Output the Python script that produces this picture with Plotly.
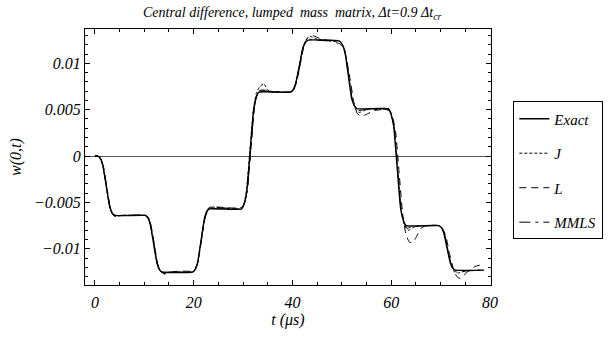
import plotly.graph_objects as go

# ---------------- data ----------------
t_exact = [0, 0.6, 1.1, 1.6, 2.3, 3.0, 3.5, 4.0, 10.2, 10.7, 11.2, 11.9, 12.6, 13.1, 13.6,
           19.8, 20.3, 20.8, 21.5, 22.2, 22.7, 23.2, 29.7, 30.2, 30.75, 31.45, 32.15, 32.7, 33.2,
           39.6, 40.1, 40.6, 41.4, 42.1, 42.7, 43.2, 49.5, 50.0, 50.6, 51.3, 52.0, 52.6, 53.1,
           59.4, 59.9, 60.5, 61.2, 61.9, 62.5, 63.0, 69.6, 70.1, 70.6, 71.3, 72.0, 72.5, 73.0, 78.8]
w_exact = [0, 0, -0.00026, -0.00096, -0.0032, -0.00544, -0.00614, -0.0064,
           -0.0064, -0.00664, -0.00732, -0.00945, -0.01159, -0.01226, -0.0125,
           -0.0125, -0.01223, -0.01148, -0.0091, -0.00672, -0.00597, -0.0057,
           -0.0057, -0.0052, -0.00381, 0.0006, 0.00501, 0.0064, 0.0069,
           0.0069, 0.00712, 0.00774, 0.0097, 0.01166, 0.01228, 0.0125,
           0.0124, 0.01211, 0.01131, 0.00875, 0.0062, 0.00539, 0.0051,
           0.0051, 0.0046, 0.00321, -0.0012, -0.00561, -0.007, -0.0075,
           -0.0075, -0.00769, -0.00822, -0.0099, -0.01158, -0.01211, -0.0123, -0.0123]

t_J = [0, 0.6, 1.1, 1.6, 2.3, 3.0, 3.5, 4.1, 5.5, 10.2, 10.7, 11.2, 11.9, 12.6, 13.2, 14.0, 15,
       19.8, 20.3, 20.8, 21.5, 22.2, 22.8, 23.5, 26, 29.6, 30.2, 30.7, 31.4, 32.1, 32.7, 33.4,
       34.2, 35.0, 36, 39.6, 40.2, 40.7, 41.4, 42.1, 42.8, 43.6, 44.5, 46, 49.5, 50.1, 50.7,
       51.4, 52.1, 52.8, 53.5, 54.5, 56, 59.5, 60.0, 60.6, 61.3, 62.0, 62.7, 63.5, 64.5, 66,
       69.6, 70.2, 70.7, 71.4, 72.1, 72.8, 73.6, 75, 78.5]
w_J = [0, 0, -0.0003, -0.0010, -0.0033, -0.0055, -0.0062, -0.0065, -0.0064, -0.0064, -0.0066,
       -0.0073, -0.0095, -0.0116, -0.0124, -0.0127, -0.0125, -0.0125, -0.0122, -0.0115, -0.0091,
       -0.0066, -0.0057, -0.0055, -0.0056, -0.0057, -0.0051, -0.0037, 0.0007, 0.0051, 0.0068,
       0.0075, 0.0078, 0.0071, 0.0069, 0.0069, 0.0072, 0.0079, 0.0098, 0.0117, 0.0126, 0.0129,
       0.0127, 0.0125, 0.0124, 0.0120, 0.0111, 0.0086, 0.0061, 0.0050, 0.0047, 0.0049, 0.0051,
       0.0051, 0.0045, 0.0030, -0.0014, -0.0058, -0.0075, -0.0080, -0.0077, -0.0075, -0.0075,
       -0.0077, -0.0083, -0.0100, -0.0117, -0.0125, -0.0126, -0.0124, -0.0123]

t_L = [0, 0.6, 1.1, 1.6, 2.3, 3.0, 3.5, 4.0, 5, 10.2, 10.8, 11.3, 12.0, 12.7, 13.3, 14.0, 15.5,
       17, 19.9, 20.4, 20.9, 21.6, 22.3, 22.8, 23.4, 25, 28, 29.8, 30.4, 30.9, 31.6, 32.3, 32.8,
       33.4, 34.5, 36, 39.7, 40.3, 40.8, 41.6, 42.3, 43.0, 44.0, 45.5, 47.5, 49.6, 50.3, 50.9,
       51.7, 52.4, 53.1, 53.9, 55.0, 56.5, 58.0, 59.7, 60.3, 60.9, 61.6, 62.3, 63.0, 63.7, 64.4,
       65.2, 66.0, 67, 69.8, 70.5, 71.1, 71.8, 72.6, 73.3, 74.0, 75.0, 76.0, 77.0, 78.3]
w_L = [0, 0, -0.0002, -0.0009, -0.0031, -0.0054, -0.0062, -0.0065, -0.0064, -0.0064, -0.0066,
       -0.0073, -0.0094, -0.0116, -0.0124, -0.0127, -0.0125, -0.0124, -0.0124, -0.0121, -0.0113,
       -0.0089, -0.0066, -0.0058, -0.0055, -0.0055, -0.0056, -0.0055, -0.0049, -0.0035, 0.0008,
       0.0052, 0.0066, 0.0071, 0.0071, 0.0069, 0.0069, 0.0072, 0.0079, 0.0099, 0.0118, 0.0127,
       0.0130, 0.0127, 0.0124, 0.0121, 0.0116, 0.0106, 0.0082, 0.0059, 0.0046, 0.0043, 0.0045,
       0.0049, 0.0050, 0.0049, 0.0042, 0.0026, -0.0018, -0.0062, -0.0085, -0.0093, -0.0093,
       -0.0086, -0.0078, -0.0075, -0.0075, -0.0079, -0.0087, -0.0105, -0.0122, -0.0130, -0.0132,
       -0.0127, -0.0122, -0.0119, -0.0117]

t_M = [0, 0.6, 1.1, 1.7, 2.4, 3.1, 3.6, 4.2, 10.3, 10.8, 11.3, 12.0, 12.7, 13.2, 13.8, 15,
       19.9, 20.4, 20.9, 21.6, 22.3, 22.8, 23.4, 29.8, 30.3, 30.85, 31.55, 32.25, 32.8, 33.4,
       39.7, 40.2, 40.7, 41.5, 42.2, 42.8, 43.4, 44.5, 49.6, 50.1, 50.7, 51.4, 52.1, 52.7, 53.3,
       54.5, 59.5, 60.0, 60.6, 61.3, 62.0, 62.6, 63.2, 64.2, 69.7, 70.2, 70.7, 71.4, 72.1, 72.6,
       73.2, 74.5, 78.6]
w_M = [0, 0, -0.0002, -0.0010, -0.0033, -0.0055, -0.0062, -0.0064, -0.0064, -0.0066, -0.0074,
       -0.0095, -0.0117, -0.0123, -0.0126, -0.0125, -0.0125, -0.0122, -0.0114, -0.0090, -0.0067,
       -0.0059, -0.0056, -0.0056, -0.0051, -0.0037, 0.0007, 0.0051, 0.0065, 0.0070, 0.0069,
       0.0071, 0.0078, 0.0098, 0.0117, 0.0124, 0.0126, 0.0125, 0.0123, 0.0120, 0.0112, 0.0087,
       0.0061, 0.0052, 0.0049, 0.0050, 0.0050, 0.0045, 0.0031, -0.0013, -0.0057, -0.0072,
       -0.0078, -0.0076, -0.0075, -0.0077, -0.0082, -0.0099, -0.0116, -0.0122, -0.0125, -0.0124,
       -0.0123]

series_names = ["Exact", "J", "L", "MMLS"]

x_tickvals = [0, 20, 40, 60, 80]
x_ticktext = ["0", "20", "40", "60", "80"]
y_tickvals = [-0.01, -0.005, 0, 0.005, 0.01]
y_ticktext = ["\u22120.01", "\u22120.005", "0", "0.005", "0.01"]


def it(s):
    return "<i>" + s + "</i>"


FONT = "Liberation Serif"

fig = go.Figure()
styles = [
    (t_exact, w_exact, "solid", 1.4),
    (t_J, w_J, "3px,2px", 1.0),
    (t_L, w_L, "7px,5px", 1.0),
    (t_M, w_M, "11px,5px,3px,5px", 1.0),
]
for name, (tx, wy, dash, lw) in zip(series_names, styles):
    fig.add_trace(go.Scatter(
        x=tx, y=wy, mode="lines", name=it(name), legendgroup=name,
        line=dict(color="black", width=lw, dash=dash, shape="spline", smoothing=0.4),
    ))

axis_common = dict(
    showline=True, linecolor="black", linewidth=1, mirror="allticks",
    ticks="inside", ticklen=5, tickcolor="black", tickwidth=1,
    showgrid=False,
    tickfont=dict(family=FONT, size=16, color="black"),
)

fig.update_xaxes(
    range=[-2, 80.2], tickvals=x_tickvals, ticktext=[it(s) for s in x_ticktext],
    minor=dict(dtick=5, tick0=0, ticks="inside", ticklen=3, tickcolor="black", showgrid=False),
    zeroline=False, ticklabelstandoff=3,
    title=dict(text=it("t (\u03bcs)"), font=dict(family=FONT, size=16, color="black"),
               standoff=3),
    **axis_common,
)
fig.update_yaxes(
    range=[-0.0139, 0.0137], tickvals=y_tickvals, ticktext=[it(s) for s in y_ticktext],
    minor=dict(dtick=0.001, tick0=0, ticks="inside", ticklen=3, tickcolor="black", showgrid=False),
    zeroline=True, zerolinecolor="#555555", zerolinewidth=1,
    title=dict(text=it("w(0,t)"), font=dict(family=FONT, size=16, color="black"),
               standoff=8),
    **axis_common,
)

fig.update_layout(
    width=615, height=337,
    margin=dict(l=85, r=115, t=29, b=50),
    paper_bgcolor="white", plot_bgcolor="white",
    font=dict(family=FONT, color="black"),
    title=dict(
        text=it("Central difference, lumped \u00a0mass \u00a0matrix, \u0394t=0.9 \u0394t<sub>cr</sub>"),
        font=dict(family=FONT, size=14, color="black"),
        x=0.475, xanchor="center", y=0.965, yanchor="middle",
    ),
    legend=dict(
        x=1.055, y=0.717, xanchor="left", yanchor="top",
        bordercolor="black", borderwidth=1, bgcolor="white",
        font=dict(family=FONT, size=15, color="black"),
        traceorder="grouped", tracegroupgap=12, itemwidth=30,
    ),
    showlegend=True,
)

fig.write_html("out.html")
